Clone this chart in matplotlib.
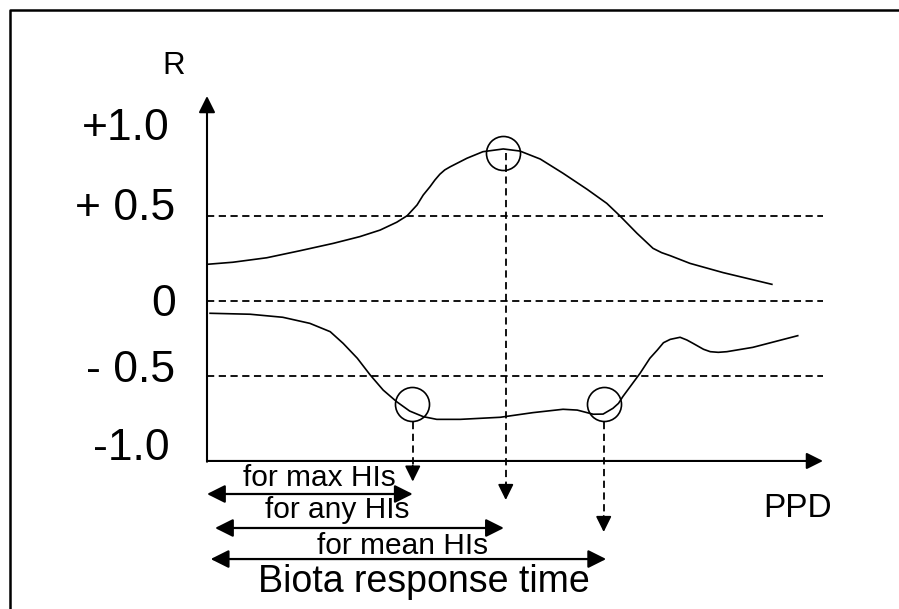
import matplotlib.pyplot as plt

plt.rcParams['font.family'] = ['Liberation Sans', 'DejaVu Sans']

# upper curve (max correlation), x in PPD units (axis tip = 10), y = R
upper_x = [0, 0.42, 0.97, 1.51, 2.05, 2.48, 2.81, 3.08, 3.25, 3.41, 3.51, 3.62, 3.70, 3.78,
           3.86, 3.95, 4.22, 4.48, 4.81, 5.08, 5.41, 5.78, 6.17, 6.49, 6.70, 6.98, 7.24, 7.38,
           7.52, 7.84, 8.38, 9.17]
upper_r = [0.198, 0.211, 0.239, 0.283, 0.329, 0.371, 0.412, 0.461, 0.502, 0.569, 0.631, 0.683,
           0.725, 0.761, 0.788, 0.808, 0.861, 0.902, 0.919, 0.906, 0.856, 0.767, 0.667, 0.579,
           0.502, 0.392, 0.298, 0.271, 0.252, 0.204, 0.146, 0.073]

# lower curve
lower_x = [0.05, 0.70, 1.23, 1.67, 2.00, 2.21, 2.44, 2.65, 2.86, 3.08, 3.29, 3.51, 3.73, 4.11,
           4.76, 5.29, 5.78, 6.01, 6.27, 6.43, 6.59, 6.68, 6.75, 7.03, 7.19, 7.31, 7.41, 7.52,
           7.68, 7.79, 7.89, 8.06, 8.17, 8.30, 8.44, 8.86, 9.59]
lower_r = [-0.108, -0.114, -0.133, -0.171, -0.223, -0.296, -0.389, -0.494, -0.588, -0.661,
           -0.719, -0.754, -0.771, -0.771, -0.758, -0.729, -0.708, -0.713, -0.739, -0.738,
           -0.702, -0.671, -0.629, -0.483, -0.389, -0.338, -0.292, -0.271, -0.258, -0.275,
           -0.296, -0.333, -0.348, -0.352, -0.348, -0.321, -0.248]

levels = [0.5, -0.03, -0.5]
tick_labels = ['+1.0', '+ 0.5', '0', '- 0.5', '-1.0']
tick_pos = [1.045, 0.55, -0.055, -0.465, -0.95]
tick_right = [-0.60, -0.52, -0.50, -0.52, -0.60]

circle_x = [4.81, 3.33, 6.44]
circle_r = [0.894, -0.678, -0.675]

drop_x = [3.34, 4.85, 6.44]
drop_top = [-0.79, 0.894, -0.79]
drop_tip = [-1.16, -1.275, -1.475]

span_labels = ['for max HIs', 'for any HIs', 'for mean HIs']
span_start = [0.0, 0.13, 0.06]
span_end = [3.34, 4.82, 6.48]
span_y = [-1.2375, -1.45, -1.644]
span_text_x = [1.82, 2.11, 3.17]
span_text_y = [-1.14, -1.34, -1.565]

x_end = 10.0
y_base = -1.031
y_top = 1.25
dash = (0, (4, 2.5))

fig = plt.figure(figsize=(8.99, 6.09), dpi=100)
ax = fig.add_axes([0, 0, 1, 1])
ax.set_xlim(-3.3604, 11.2338)
ax.set_ylim(-1.95625, 1.85)
ax.axis('off')

# frame
ax.plot([0.0111, 0.0111, 1.0], [0.0, 0.9836, 0.9836], color='k', lw=1.8,
        transform=ax.transAxes, clip_on=False)

# axes with arrows
ax.annotate('', xy=(0, y_top), xytext=(0, y_base - 0.005),
            arrowprops=dict(arrowstyle='-|>,head_length=1.0,head_width=0.5', lw=1.5,
                            color='k', shrinkA=0, shrinkB=0))
ax.annotate('', xy=(x_end, y_base), xytext=(0, y_base),
            arrowprops=dict(arrowstyle='-|>,head_length=1.0,head_width=0.5', lw=1.5,
                            color='k', shrinkA=0, shrinkB=0))

for lv in levels:
    ax.plot([0, x_end], [lv, lv], color='k', lw=1.3, linestyle=dash)

ax.plot(upper_x, upper_r, color='k', lw=1.2)
ax.plot(lower_x, lower_r, color='k', lw=1.2)

ax.plot(circle_x, circle_r, linestyle='none', marker='o', markersize=24.5,
        markerfacecolor='none', markeredgecolor='k', markeredgewidth=1.2)

# dashed drop lines with solid heads
for x, y0, y1 in zip(drop_x, drop_top, drop_tip):
    ax.plot([x, x], [y0, y1 + 0.05], color='k', lw=1.3, linestyle=dash)
    ax.annotate('', xy=(x, y1), xytext=(x, y1 + 0.1),
                arrowprops=dict(arrowstyle='-|>,head_length=0.95,head_width=0.47', lw=1.3,
                                color='k', shrinkA=0, shrinkB=0))

for lab, x0, x1, y, tx, ty in zip(span_labels, span_start, span_end, span_y,
                                  span_text_x, span_text_y):
    ax.annotate('', xy=(x1, y), xytext=(x0, y),
                arrowprops=dict(arrowstyle='<|-|>,head_length=1.1,head_width=0.55', lw=1.6,
                                color='k', shrinkA=0, shrinkB=0))
    ax.text(tx, ty, lab, fontsize=21.5, ha='center', va='center')

ax.text(3.52, -1.79, 'Biota response time', fontsize=27, ha='center', va='center')

for lab, pos, xr in zip(tick_labels, tick_pos, tick_right):
    ax.text(xr, pos, lab, fontsize=32, ha='right', va='center')

ax.text(-0.54, 1.44, 'R', fontsize=22.5, ha='center', va='center')
ax.text(9.59, -1.33, 'PPD', fontsize=24, ha='center', va='center')

fig.savefig('out.png', dpi=100)
